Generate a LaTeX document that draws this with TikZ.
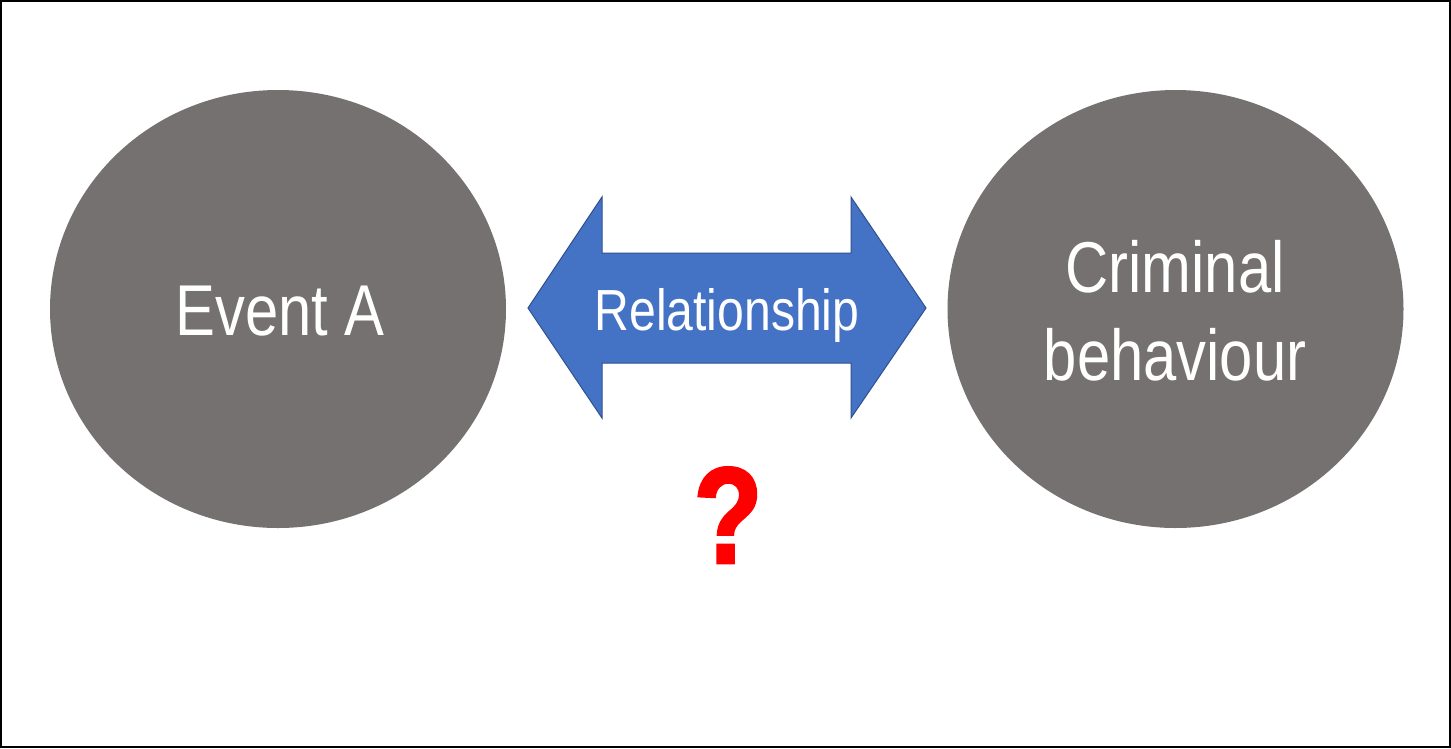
\documentclass[tikz,border=0pt]{standalone}
\usepackage{fontspec}
\setmainfont[FakeStretch=0.83]{Liberation Sans}
\newfontfamily\qfont[FakeStretch=0.82,FakeBold=2]{Liberation Sans}
\usetikzlibrary{shapes.geometric}
\definecolor{circgray}{HTML}{767171}
\definecolor{arrowblue}{HTML}{4472C4}
\definecolor{arrowedge}{HTML}{2F528F}
\definecolor{qred}{HTML}{FF0000}
\tikzset{
  bubble/.style={ellipse, fill=circgray, draw=none, minimum width=456pt, minimum height=438pt, inner sep=0pt},
  bigtext/.style={text=white, font=\fontsize{72}{88}\selectfont, align=center, inner sep=0pt},
}
\begin{document}
\begin{tikzpicture}[x=1pt,y=-1pt]
\useasboundingbox (0,0) rectangle (1451,748);
\fill[white] (0,0) rectangle (1451,748);
\node[bubble] (a) at (278,309) {};
\node[bubble] (b) at (1175.5,309) {};
\node[bigtext, anchor=base] (at) at (280,335) {Event A};
\node[bigtext, anchor=base] (bt) at (1175,380) {Criminal\\behaviour};
\draw[fill=arrowblue, draw=arrowedge, line width=1pt, line join=miter]
  (528,308) -- (602,197) -- (602,253) -- (851,253) -- (851,197) -- (926,308)
  -- (851,418) -- (851,363) -- (602,363) -- (602,418) -- cycle;
\node[text=qred, font=\fontsize{58}{70}\selectfont, anchor=base, inner sep=0pt, text=white] (rel) at (727,330) {Relationship};
\node[text=qred, font=\qfont\bfseries\fontsize{137}{150}\selectfont, anchor=base, inner sep=0pt] (q) at (728,563) {?};
\draw[black, line width=2pt] (1,1) rectangle (1450,747);
\end{tikzpicture}
\end{document}
